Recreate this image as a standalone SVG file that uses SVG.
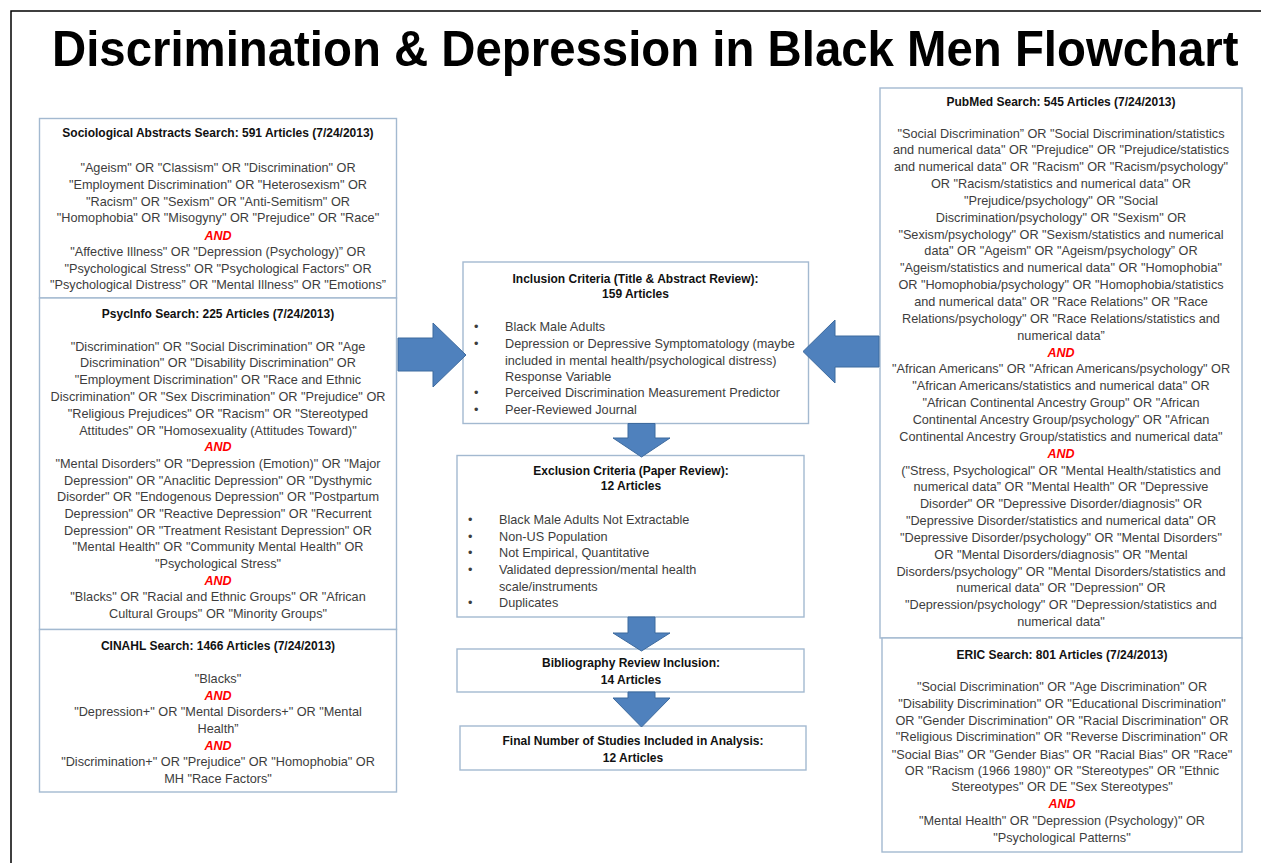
<svg xmlns="http://www.w3.org/2000/svg" width="1261" height="863" viewBox="0 0 1261 863" xml:space="preserve">
<style>
text{font-family:"Liberation Sans",Arial,sans-serif}
.b{font-size:12.7px;fill:#3d3d3d;text-anchor:middle}
.l{font-size:12.7px;fill:#3d3d3d}
.h{font-size:12px;font-weight:bold;fill:#111;text-anchor:middle}
.and{font-size:12.5px;font-weight:bold;font-style:italic;fill:#ff0000;text-anchor:middle}
.box{fill:#fff;stroke:#a3b9d0;stroke-width:1.4}
.arr{fill:#4f81bd;stroke:#3d6a9e;stroke-width:1}
.title{font-size:50px;font-weight:bold;fill:#000}
</style>
<rect x="0" y="0" width="1261" height="863" fill="#fff"/>
<path d="M11,863 V11 H1261" fill="none" stroke="#000" stroke-width="1.5"/>
<text class="title" x="0" y="0" transform="translate(52,66) scale(0.947,1)">Discrimination &amp; Depression in Black Men Flowchart</text>

<g id="sociological">
<rect class="box" x="39.5" y="118.5" width="357" height="179.5"/>
<text class="h" x="218" y="137">Sociological Abstracts Search: 591 Articles  (7/24/2013)</text>
<text class="b" x="218" y="172">"Ageism" OR "Classism" OR "Discrimination" OR</text>
<text class="b" x="218" y="189">"Employment Discrimination" OR "Heterosexism" OR</text>
<text class="b" x="218" y="205.5">"Racism" OR "Sexism" OR  "Anti-Semitism" OR</text>
<text class="b" x="218" y="222">"Homophobia" OR "Misogyny" OR "Prejudice" OR "Race"</text>
<text class="and" x="218" y="239.5">AND</text>
<text class="b" x="218" y="256">"Affective Illness" OR "Depression (Psychology)” OR</text>
<text class="b" x="218" y="272.5">"Psychological Stress" OR "Psychological Factors" OR</text>
<text class="b" x="218" y="289">"Psychological Distress” OR "Mental Illness" OR "Emotions”</text>
</g>

<g id="psycinfo">
<rect class="box" x="39.5" y="298" width="357" height="331.5"/>
<text class="h" x="218" y="318">PsycInfo Search: 225 Articles  (7/24/2013)</text>
<text class="b" x="218" y="350.5">"Discrimination" OR "Social Discrimination" OR "Age</text>
<text class="b" x="218" y="367">Discrimination" OR "Disability Discrimination" OR</text>
<text class="b" x="218" y="384">"Employment Discrimination" OR "Race and Ethnic</text>
<text class="b" x="218" y="401">Discrimination" OR "Sex Discrimination" OR "Prejudice" OR</text>
<text class="b" x="218" y="418">"Religious Prejudices" OR "Racism" OR "Stereotyped</text>
<text class="b" x="218" y="434.5">Attitudes" OR "Homosexuality (Attitudes Toward)"</text>
<text class="and" x="218" y="451">AND</text>
<text class="b" x="218" y="468">"Mental Disorders" OR "Depression (Emotion)"  OR "Major</text>
<text class="b" x="218" y="484.5">Depression" OR "Anaclitic Depression" OR "Dysthymic</text>
<text class="b" x="218" y="501">Disorder" OR "Endogenous Depression" OR "Postpartum</text>
<text class="b" x="218" y="518">Depression" OR "Reactive Depression" OR "Recurrent</text>
<text class="b" x="218" y="534.5">Depression" OR "Treatment Resistant Depression" OR</text>
<text class="b" x="218" y="551">"Mental Health" OR  "Community Mental Health" OR</text>
<text class="b" x="218" y="568">"Psychological Stress"</text>
<text class="and" x="218" y="584.5">AND</text>
<text class="b" x="218" y="601">"Blacks" OR  "Racial and Ethnic Groups" OR "African</text>
<text class="b" x="218" y="618">Cultural Groups" OR "Minority Groups"</text>
</g>

<g id="cinahl">
<rect class="box" x="39.5" y="629.5" width="357" height="162.5"/>
<text class="h" x="218" y="649.5">CINAHL Search: 1466 Articles  (7/24/2013)</text>
<text class="b" x="218" y="683">"Blacks"</text>
<text class="and" x="218" y="699.5">AND</text>
<text class="b" x="218" y="716">"Depression+"  OR "Mental Disorders+" OR "Mental</text>
<text class="b" x="218" y="733">Health”</text>
<text class="and" x="218" y="749.5">AND</text>
<text class="b" x="218" y="766">"Discrimination+" OR "Prejudice" OR "Homophobia" OR</text>
<text class="b" x="218" y="783">MH "Race Factors"</text>
</g>

<g id="inclusion">
<rect class="box" x="463" y="262" width="345.5" height="161.5"/>
<text class="h" x="635.5" y="283">Inclusion Criteria (Title &amp; Abstract Review):</text>
<text class="h" x="635.5" y="298">159 Articles</text>
<text class="l" x="474" y="331">•</text><text class="l" x="505" y="331">Black Male Adults</text>
<text class="l" x="474" y="348">•</text><text class="l" x="505" y="348">Depression or Depressive  Symptomatology (maybe</text>
<text class="l" x="505" y="364.5">included in mental health/psychological distress)</text>
<text class="l" x="505" y="381">Response Variable</text>
<text class="l" x="474" y="397">•</text><text class="l" x="505" y="397">Perceived Discrimination Measurement Predictor</text>
<text class="l" x="474" y="414">•</text><text class="l" x="505" y="414">Peer-Reviewed Journal</text>
</g>

<g id="exclusion">
<rect class="box" x="457" y="455.5" width="347" height="161.5"/>
<text class="h" x="631" y="474.5">Exclusion Criteria (Paper Review):</text>
<text class="h" x="631" y="490">12 Articles</text>
<text class="l" x="468" y="524">•</text><text class="l" x="499" y="524">Black Male Adults Not Extractable</text>
<text class="l" x="468" y="540.5">•</text><text class="l" x="499" y="540.5">Non-US Population</text>
<text class="l" x="468" y="557">•</text><text class="l" x="499" y="557">Not Empirical, Quantitative</text>
<text class="l" x="468" y="574">•</text><text class="l" x="499" y="574">Validated depression/mental health</text>
<text class="l" x="499" y="590.5">scale/instruments</text>
<text class="l" x="468" y="607">•</text><text class="l" x="499" y="607">Duplicates</text>
</g>

<g id="bibliography">
<rect class="box" x="457" y="649" width="347" height="43"/>
<text class="h" x="631" y="667">Bibliography Review Inclusion:</text>
<text class="h" x="631" y="683.5">14 Articles</text>
</g>

<g id="final">
<rect class="box" x="460" y="726" width="346" height="44"/>
<text class="h" x="633" y="745">Final Number of Studies Included in Analysis:</text>
<text class="h" x="633" y="762">12 Articles</text>
</g>

<g id="pubmed">
<rect class="box" x="880" y="88" width="362" height="550"/>
<text class="h" x="1061" y="105.5">PubMed Search: 545 Articles  (7/24/2013)</text>
<text class="b" x="1061" y="137.5">"Social Discrimination” OR "Social Discrimination/statistics</text>
<text class="b" x="1061" y="154.35">and numerical data" OR "Prejudice" OR "Prejudice/statistics</text>
<text class="b" x="1061" y="171.2">and numerical data" OR "Racism" OR "Racism/psychology"</text>
<text class="b" x="1061" y="188.05">OR "Racism/statistics and numerical data" OR</text>
<text class="b" x="1061" y="204.9">"Prejudice/psychology" OR "Social</text>
<text class="b" x="1061" y="221.75">Discrimination/psychology" OR "Sexism" OR</text>
<text class="b" x="1061" y="238.6">"Sexism/psychology" OR "Sexism/statistics and numerical</text>
<text class="b" x="1061" y="255.45">data" OR "Ageism" OR "Ageism/psychology” OR</text>
<text class="b" x="1061" y="272.3">"Ageism/statistics and numerical data" OR "Homophobia"</text>
<text class="b" x="1061" y="289.15">OR "Homophobia/psychology" OR "Homophobia/statistics</text>
<text class="b" x="1061" y="306">and numerical data" OR "Race Relations" OR "Race</text>
<text class="b" x="1061" y="322.85">Relations/psychology" OR "Race Relations/statistics and</text>
<text class="b" x="1061" y="339.7">numerical data”</text>
<text class="and" x="1061" y="356.55">AND</text>
<text class="b" x="1061" y="373.4">"African Americans" OR "African Americans/psychology" OR</text>
<text class="b" x="1061" y="390.25">"African Americans/statistics and numerical data" OR</text>
<text class="b" x="1061" y="407.1">"African Continental Ancestry Group" OR "African</text>
<text class="b" x="1061" y="423.95">Continental Ancestry Group/psychology" OR "African</text>
<text class="b" x="1061" y="440.8">Continental Ancestry Group/statistics and numerical data"</text>
<text class="and" x="1061" y="457.65">AND</text>
<text class="b" x="1061" y="474.5">("Stress, Psychological" OR "Mental Health/statistics and</text>
<text class="b" x="1061" y="491.35">numerical data” OR "Mental Health" OR "Depressive</text>
<text class="b" x="1061" y="508.2">Disorder" OR "Depressive Disorder/diagnosis" OR</text>
<text class="b" x="1061" y="525.05">"Depressive Disorder/statistics and numerical data" OR</text>
<text class="b" x="1061" y="541.9">"Depressive Disorder/psychology" OR "Mental Disorders"</text>
<text class="b" x="1061" y="558.75">OR "Mental Disorders/diagnosis" OR "Mental</text>
<text class="b" x="1061" y="575.6">Disorders/psychology" OR "Mental Disorders/statistics and</text>
<text class="b" x="1061" y="592.45">numerical data" OR "Depression" OR</text>
<text class="b" x="1061" y="609.3">"Depression/psychology" OR "Depression/statistics and</text>
<text class="b" x="1061" y="626.15">numerical data"</text>
</g>

<g id="eric">
<rect class="box" x="882" y="638" width="360" height="214"/>
<text class="h" x="1062" y="658.5">ERIC Search: 801 Articles  (7/24/2013)</text>
<text class="b" x="1062" y="691">"Social Discrimination" OR "Age Discrimination" OR</text>
<text class="b" x="1062" y="708">"Disability Discrimination" OR "Educational Discrimination"</text>
<text class="b" x="1062" y="724.5">OR "Gender Discrimination" OR "Racial Discrimination" OR</text>
<text class="b" x="1062" y="741">"Religious Discrimination" OR "Reverse Discrimination" OR</text>
<text class="b" x="1062" y="758.5">"Social Bias" OR "Gender Bias" OR "Racial Bias" OR "Race"</text>
<text class="b" x="1062" y="774.5">OR "Racism (1966 1980)" OR "Stereotypes"  OR "Ethnic</text>
<text class="b" x="1062" y="791">Stereotypes" OR DE "Sex Stereotypes"</text>
<text class="and" x="1062" y="808">AND</text>
<text class="b" x="1062" y="824.5">"Mental Health" OR "Depression (Psychology)" OR</text>
<text class="b" x="1062" y="842">"Psychological Patterns"</text>
</g>

<g id="connectors">
<polygon class="arr" points="398,338 433,338 433,323 466,355 433,387 433,371 398,371"/>
<polygon class="arr" points="879,336 835,336 835,320 803,351.5 835,383 835,367 879,367"/>
<polygon class="arr" points="628,423.5 655,423.5 655,438 670,438 641.5,457 613,438 628,438"/>
<polygon class="arr" points="628,617 655,617 655,633 670,633 641.5,651 613,633 628,633"/>
<polygon class="arr" points="628,692 655,692 655,698 670,698 641.5,727 613,698 628,698"/>
</g>
</svg>
